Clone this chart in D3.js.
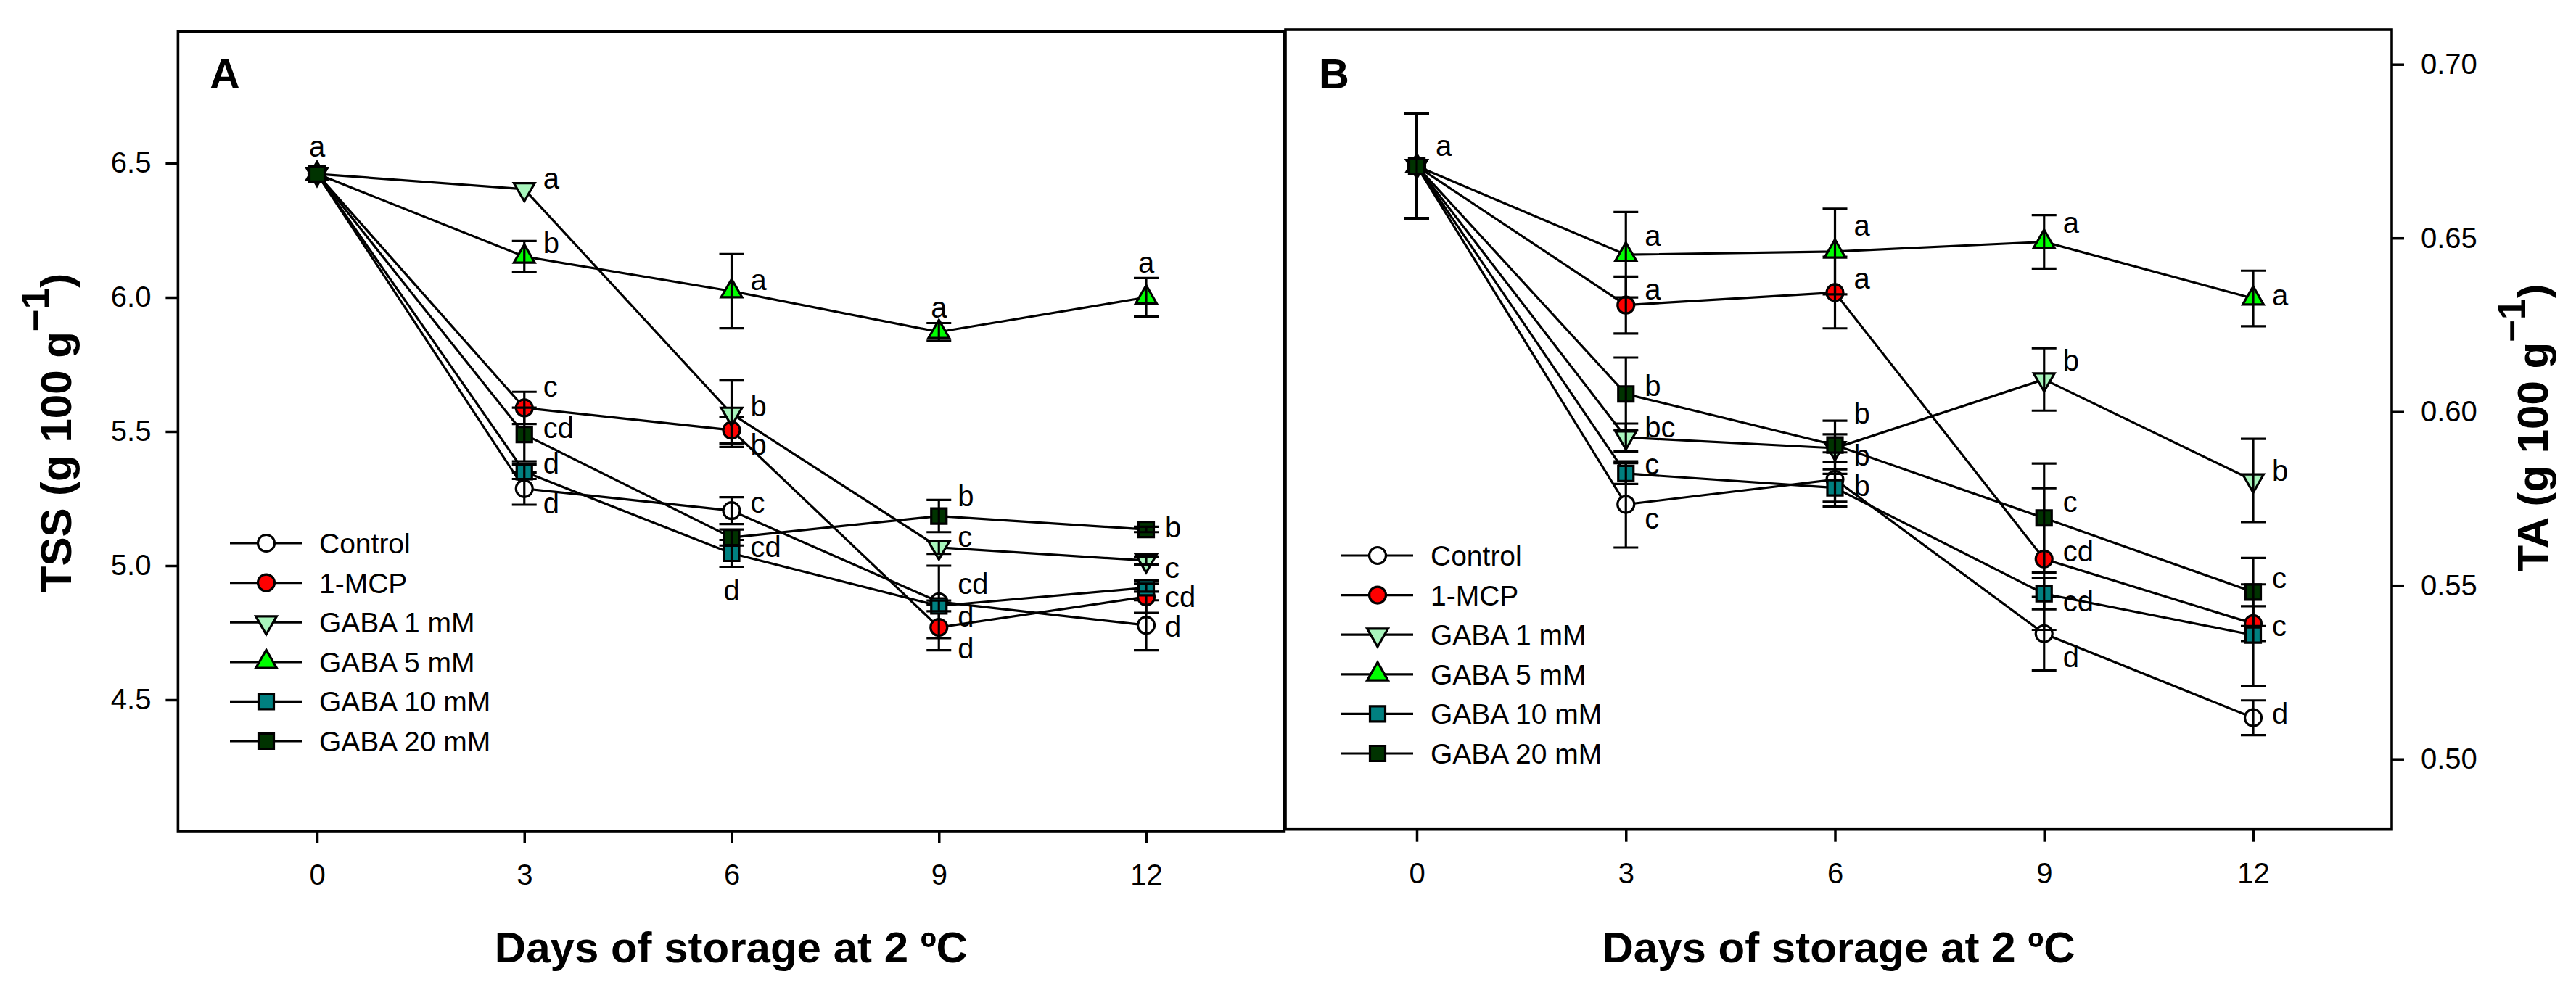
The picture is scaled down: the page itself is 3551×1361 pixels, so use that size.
<!DOCTYPE html>
<html>
<head>
<meta charset="utf-8">
<script src="https://cdn.jsdelivr.net/npm/d3@7"></script>
<style>
  body { margin: 0; background: #fff; }
  text { font-family: "Liberation Sans", Arial, sans-serif; }
</style>
</head>
<body>
<div id="chart"></div>
<script>
// ---- data ----
const days = [0, 3, 6, 9, 12];
const treatments = ["Control", "1-MCP", "GABA 1 mM", "GABA 5 mM", "GABA 10 mM", "GABA 20 mM"];

// panel A: TSS (g 100 g-1)
const tssControl = [6.46, 5.287, 5.205, 4.865, 4.778];
const tssMcp     = [6.46, 5.588, 5.505, 4.770, 4.884];
const tssGaba1   = [6.46, 6.403, 5.566, 5.068, 5.019];
const tssGaba5   = [6.46, 6.152, 6.023, 5.871, 6.000];
const tssGaba10  = [6.46, 5.350, 5.046, 4.850, 4.918];
const tssGaba20  = [6.46, 5.489, 5.105, 5.185, 5.135];

const tssErrControl = [0, 0.060, 0.050, 0.135, 0.093];
const tssErrMcp     = [0, 0.060, 0.050, 0.085, 0.060];
const tssErrGaba1   = [0, 0, 0.124, 0.024, 0.015];
const tssErrGaba5   = [0, 0.058, 0.138, 0.033, 0.072];
const tssErrGaba10  = [0, 0.027, 0.050, 0.020, 0.015];
const tssErrGaba20  = [0, 0.100, 0.030, 0.060, 0.010];

// significance letters and the value they sit at
const tssLetters = [
  ["", "d", "c", "cd", "d"],
  ["", "c", "b", "d", "cd"],
  ["", "a", "b", "c", "c"],
  ["", "b", "a", "a", "a"],
  ["", "d", "d", "d", ""],
  ["a", "cd", "cd", "b", "b"]
];
const tssLetterAt = [
  [null, 5.228, 5.233, 4.928, 4.770],
  [null, 5.665, 5.447, 4.688, 4.880],
  [null, 6.440, 5.591, 5.106, 4.990],
  [null, 6.200, 6.061, 5.960, 6.126],
  [null, 5.377, 4.906, 4.808, null],
  [6.558, 5.511, 5.068, 5.256, 5.140]
];
const tssCentered = ["5-0", "3-3", "3-4", "4-2"];
const tssTicks = [4.5, 5.0, 5.5, 6.0, 6.5];

// panel B: TA (g 100 g-1)
const taControl = [0.6707, 0.5733, 0.5805, 0.5361, 0.5119];
const taMcp     = [0.6707, 0.6307, 0.6343, 0.5576, 0.5390];
const taGaba1   = [0.6707, 0.5926, 0.5895, 0.6093, 0.5802];
const taGaba5   = [0.6707, 0.6452, 0.6461, 0.6489, 0.6326];
const taGaba10  = [0.6707, 0.5822, 0.5781, 0.5476, 0.5357];
const taGaba20  = [0.6707, 0.6051, 0.5904, 0.5694, 0.5481];

const taErrControl = [0.015, 0.0124, 0.0078, 0.0106, 0.0050];
const taErrMcp     = [0.015, 0.0082, 0.0103, 0.0204, 0.0050];
const taErrGaba1   = [0.015, 0.0040, 0.0040, 0.0090, 0.0120];
const taErrGaba5   = [0.015, 0.0123, 0.0123, 0.0077, 0.0080];
const taErrGaba10  = [0.015, 0.0030, 0.0040, 0.0045, 0.0146];
const taErrGaba20  = [0.015, 0.0105, 0.0070, 0.0157, 0.0098];

const taLetters = [
  ["", "c", "", "d", "d"],
  ["", "a", "a", "cd", "c"],
  ["", "bc", "b", "b", "b"],
  ["", "a", "a", "a", "a"],
  ["", "c", "b", "cd", ""],
  ["a", "b", "b", "c", "c"]
];
const taLetterAt = [
  [null, 0.5691, null, 0.5292, 0.5129],
  [null, 0.6349, 0.6382, 0.5596, 0.5381],
  [null, 0.5953, 0.5872, 0.6145, 0.5827],
  [null, 0.6505, 0.6533, 0.6542, 0.6332],
  [null, 0.5847, 0.5784, 0.5451, null],
  [0.6763, 0.6073, 0.5993, 0.5737, 0.5519]
];
const taCentered = [];
const taTicks = [0.50, 0.55, 0.60, 0.65, 0.70];

// ---- styles ----
const fills = ["#ffffff", "#ff0000", "#a8f5bc", "#00ff00", "#008080", "#003300"];
const shapes = ["circle", "circle", "down", "up", "square", "square"];

const width = 3551, height = 1361;
const svg = d3.select("#chart").append("svg")
  .attr("width", width).attr("height", height)
  .style("background", "#fff");

function symbolPath(shape) {
  if (shape === "circle") return d3.symbol(d3.symbolCircle, 415)();
  if (shape === "square") return d3.symbol(d3.symbolSquare, 441)();
  return d3.symbol(d3.symbolTriangle, 360)();
}

function addMarker(g, i, cx, cy) {
  g.append("path")
    .attr("d", symbolPath(shapes[i]))
    .attr("transform", `translate(${cx},${cy})` + (shapes[i] === "down" ? " rotate(180)" : ""))
    .attr("fill", fills[i])
    .attr("stroke", "#000")
    .attr("stroke-width", 3.2);
}

function drawPanel(p) {
  const g = svg.append("g");
  const x = d3.scaleLinear().domain([0, 12]).range(p.xRange);
  const y = d3.scaleLinear().domain(p.yDomain).range(p.yRange);

  // frame
  g.append("rect")
    .attr("x", p.frame[0]).attr("y", p.frame[1])
    .attr("width", p.frame[2] - p.frame[0]).attr("height", p.frame[3] - p.frame[1])
    .attr("fill", "none").attr("stroke", "#000").attr("stroke-width", 3.6);

  // x axis
  const xa = g.append("g")
    .attr("transform", `translate(0,${p.frame[3]})`)
    .call(d3.axisBottom(x).tickValues(days).tickSize(17).tickPadding(29));
  // y axis
  const yAxis = p.yRight ? d3.axisRight(y) : d3.axisLeft(y);
  const ya = g.append("g")
    .attr("transform", `translate(${p.yRight ? p.frame[2] : p.frame[0]},0)`)
    .call(yAxis.tickValues(p.ticks).tickFormat(d3.format(p.fmt)).tickSize(17).tickPadding(p.yRight ? 23 : 20));
  [xa, ya].forEach(a => {
    a.select(".domain").remove();
    a.selectAll(".tick line").attr("stroke", "#000").attr("stroke-width", 3.5);
    a.selectAll(".tick text").attr("fill", "#000").attr("font-size", 40)
      .style("font-family", "'Liberation Sans', Arial, sans-serif");
  });

  const line = d3.line().x(d => x(d.day)).y(d => y(d.v));

  p.means.forEach((vals, i) => {
    const pts = days.map((d, k) => ({ day: d, v: vals[k], e: p.errs[i][k] }));
    const sg = g.append("g");
    sg.append("path").attr("d", line(pts))
      .attr("fill", "none").attr("stroke", "#000").attr("stroke-width", 3.2);
    pts.forEach(pt => addMarker(sg, i, x(pt.day), y(pt.v)));
    pts.filter(pt => pt.e > 0).forEach(pt => {
      const cx = x(pt.day), y1 = y(pt.v + pt.e), y2 = y(pt.v - pt.e);
      sg.append("line").attr("x1", cx).attr("x2", cx).attr("y1", y1).attr("y2", y2)
        .attr("stroke", "#000").attr("stroke-width", 3.2);
      [y1, y2].forEach(yy => sg.append("line")
        .attr("x1", cx - 17).attr("x2", cx + 17).attr("y1", yy).attr("y2", yy)
        .attr("stroke", "#000").attr("stroke-width", 3.2));
    });
  });

  // significance letters
  p.letters.forEach((row, i) => row.forEach((t, k) => {
    if (!t) return;
    const centred = p.centered.includes(`${i}-${k}`);
    g.append("text")
      .attr("x", x(days[k]) + (centred ? 0 : 26))
      .attr("y", y(p.letterAt[i][k]))
      .attr("dy", "0.32em")
      .attr("text-anchor", centred ? "middle" : "start")
      .attr("font-size", 40)
      .text(t);
  }));

  // legend
  treatments.forEach((name, i) => {
    const ly = p.legend[1] + i * 54.6;
    g.append("line").attr("x1", p.legend[0]).attr("x2", p.legend[0] + 99)
      .attr("y1", ly).attr("y2", ly).attr("stroke", "#000").attr("stroke-width", 3.2);
    addMarker(g, i, p.legend[0] + 50, ly);
    g.append("text").attr("x", p.legend[0] + 123).attr("y", ly).attr("dy", "0.36em")
      .attr("font-size", 39).text(name);
  });

  // panel letter
  g.append("text").attr("x", p.letterPos[0]).attr("y", p.letterPos[1])
    .attr("font-size", 58).attr("font-weight", "bold").text(p.panel);

  // x title
  g.append("text").attr("x", (p.frame[0] + p.frame[2]) / 2).attr("y", 1327)
    .attr("text-anchor", "middle").attr("font-size", 60).attr("font-weight", "bold")
    .text("Days of storage at 2 ºC");

  // y title
  const yt = g.append("text")
    .attr("transform", `translate(${p.yTitle[0]},${p.yTitle[1]}) rotate(-90)`)
    .attr("text-anchor", "middle").attr("font-size", 60).attr("font-weight", "bold");
  yt.append("tspan").text(p.yLabel + " (g 100 g");
  yt.append("tspan").attr("font-size", 53).attr("dy", -31).text("\u22121");
  yt.append("tspan").attr("dy", 31).text(")");
}

drawPanel({
  panel: "A",
  frame: [245.4, 43.7, 1770.4, 1146],
  xRange: [437, 1580],
  yDomain: [4.5, 6.5], yRange: [965, 225],
  ticks: tssTicks, fmt: ".1f", yRight: false,
  means: [tssControl, tssMcp, tssGaba1, tssGaba5, tssGaba10, tssGaba20],
  errs: [tssErrControl, tssErrMcp, tssErrGaba1, tssErrGaba5, tssErrGaba10, tssErrGaba20],
  letters: tssLetters, letterAt: tssLetterAt, centered: tssCentered,
  legend: [317, 749],
  letterPos: [289, 122],
  yTitle: [98, 597], yLabel: "TSS"
});

drawPanel({
  panel: "B",
  frame: [1772, 41, 3297, 1143.7],
  xRange: [1953, 3106],
  yDomain: [0.50, 0.70], yRange: [1046.7, 88.7],
  ticks: taTicks, fmt: ".2f", yRight: true,
  means: [taControl, taMcp, taGaba1, taGaba5, taGaba10, taGaba20],
  errs: [taErrControl, taErrMcp, taErrGaba1, taErrGaba5, taErrGaba10, taErrGaba20],
  letters: taLetters, letterAt: taLetterAt, centered: taCentered,
  legend: [1849, 766],
  letterPos: [1818, 122],
  yTitle: [3512, 590], yLabel: "TA"
});
</script>
</body>
</html>
